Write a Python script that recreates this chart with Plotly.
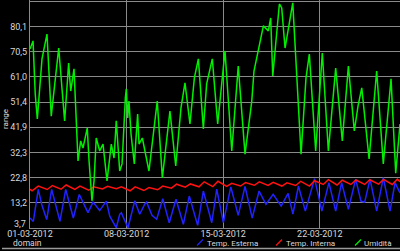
import pandas as pd
import plotly.graph_objects as go

BASE = pd.Timestamp("2012-03-01 00:00")

# Temp. Esterna (blue): day offset from 01-03-2012 00:00, value
est_days = [0.00, 0.24, 0.60, 0.85, 1.21, 1.57, 2.17, 2.59, 3.14, 3.57, 4.20, 4.57,
            5.05, 5.53, 5.78, 6.25, 6.50, 6.62, 6.74, 7.10, 7.59, 7.95, 8.31, 8.45,
            8.84, 9.18, 9.62, 10.09, 10.58, 11.11, 11.54, 12.15, 12.56, 13.17, 13.53,
            14.01, 14.55, 15.09, 15.58, 16.10, 16.60, 17.10, 17.62, 18.20, 18.70,
            19.05, 19.45, 19.95, 20.62, 21.15, 21.66, 22.15, 22.58, 23.07, 23.60,
            23.98, 24.25, 24.64, 25.12, 25.60, 26.09, 26.45, 26.81]
est_vals = [7.5, 6.2, 18.3, 12.6, 6.9, 18.3, 6.2, 18.3, 7.5, 16.4, 9.5, 13.5,
            10.3, 13.9, 8.2, 3.8, 8.9, 9.5, 8.0, 3.8, 14.0, 8.9, 12.7, 13.5,
            8.5, 7.0, 14.8, 5.7, 14.6, 5.1, 15.8, 4.7, 17.7, 5.7, 18.4,
            5.7, 19.3, 8.5, 19.5, 7.5, 17.7, 12.7, 16.5, 12.0, 16.8,
            9.0, 19.6, 10.1, 22.4, 10.1, 20.9, 10.1, 20.9, 10.8, 22.2,
            13.9, 13.5, 22.2, 10.1, 22.8, 10.1, 20.9, 17.0]

# Temp. Interna (red)
int_days = [0.00, 0.15, 0.60, 1.25, 1.62, 2.25, 2.62, 3.25, 3.62, 4.25, 4.62,
            5.25, 5.62, 6.25, 6.62, 7.25, 7.62, 8.25, 8.62, 9.25, 9.62, 10.25,
            10.62, 11.25, 11.62, 12.25, 12.62, 13.25, 13.62, 14.25, 14.62, 15.25,
            15.62, 16.25, 16.62, 17.25, 17.62, 18.25, 18.62, 19.25, 19.62, 20.25,
            20.62, 21.25, 21.62, 22.25, 22.62, 23.25, 23.62, 24.25, 24.62, 25.25,
            25.62, 26.25, 26.62, 26.81]
int_vals = [18.4, 17.8, 19.6, 18.3, 19.8, 18.4, 20.0, 18.3, 19.6, 18.0, 19.3,
            18.5, 19.5, 18.6, 19.3, 17.8, 19.3, 17.9, 19.0, 18.2, 19.6, 18.8,
            20.3, 19.2, 20.4, 19.3, 21.2, 19.4, 21.4, 19.5, 20.6, 19.6, 20.9,
            19.9, 21.2, 19.8, 21.0, 19.6, 20.8, 19.8, 21.4, 19.6, 21.6,
            20.2, 22.0, 20.0, 21.8, 20.2, 21.9, 20.2, 22.0, 20.3, 22.1,
            20.2, 22.2, 21.2]

# Umidità (green)
umi_days = [0.00, 0.22, 0.38, 0.53, 0.87, 1.23, 1.54, 2.08, 2.51, 2.80, 2.95, 3.19,
            3.48, 3.67, 3.84, 4.15, 4.28, 4.49, 4.64, 4.80, 5.05, 5.29, 5.58, 5.89,
            6.09, 6.25, 6.50, 6.67, 6.91, 6.98, 7.08, 7.17, 7.32, 7.56, 7.80, 7.90,
            8.14, 8.62, 9.22, 9.59, 10.14, 10.56, 10.94, 11.23, 11.59, 11.91, 12.20,
            12.56, 12.80, 13.21, 13.60, 14.08, 14.13, 14.62, 15.09, 15.58, 16.07,
            16.23, 16.91, 17.27, 17.44, 17.59, 18.07, 18.24, 18.48, 19.04, 19.64,
            20.00, 20.24, 20.70, 21.18, 21.62, 22.15, 22.63, 23.07, 23.50, 23.77,
            24.04, 24.57, 25.12, 25.60, 26.16, 26.50, 26.81]
umi_vals = [71.5, 74.6, 54.5, 45.0, 67.8, 77.2, 46.1, 71.9, 44.3, 66.2, 55.6, 64.0,
            29.1, 36.7, 34.0, 41.6, 29.0, 14.0, 21.5, 37.8, 32.9, 35.5, 21.5, 35.5,
            30.2, 44.3, 25.3, 28.0, 53.0, 56.4, 45.4, 51.8, 39.3, 28.0, 46.9, 35.5,
            37.8, 25.3, 51.8, 22.7, 48.0, 27.2, 49.2, 58.7, 43.1, 60.6, 67.8,
            41.2, 58.3, 67.8, 43.1, 68.1, 70.8, 32.9, 65.1, 31.7, 51.8,
            63.2, 80.3, 78.4, 83.3, 61.3, 88.6, 87.1, 71.9, 89.0, 31.7,
            60.6, 69.6, 32.9, 70.0, 32.9, 64.3, 36.7, 65.1, 40.5, 50.0,
            56.8, 29.9, 63.2, 28.0, 60.2, 24.5, 43.1]

y_tick_vals = [3.7, 13.24, 22.79, 32.33, 41.88, 51.42, 60.97, 70.51, 80.06, 89.6]
y_tick_text = ["3,7", "13,2", "22,8", "32,3", "41,9", "51,4", "61,0", "70,5", "80,1", "89,6"]
x_tick_dates = ["2012-03-01", "2012-03-08", "2012-03-15", "2012-03-22", "2012-03-29"]
x_tick_text = ["01-03-2012", "08-03-2012", "15-03-2012", "22-03-2012", "29-03-2012"]

series_names = ["Temp. Esterna", "Temp. Interna", "Umidità"]
series_colors = ["#2222ff", "#ff1111", "#00f000"]


def to_time(days):
    return [BASE + pd.Timedelta(days=d) for d in days]


W, H = 400, 251
ML, MB = 30, 23
PW, PH = W - ML, H - MB

fig = go.Figure()
for days, vals, name, col in [(est_days, est_vals, series_names[0], series_colors[0]),
                              (int_days, int_vals, series_names[1], series_colors[1]),
                              (umi_days, umi_vals, series_names[2], series_colors[2])]:
    fig.add_trace(go.Scatter(x=to_time(days), y=vals, mode="lines", name=name,
                             line=dict(color=col, width=1.5), showlegend=False))

# the lowest y label sits a little above its gridline (kept inside the plot), as in the reference
y_text_shown = [""] + y_tick_text[1:]

fig.update_layout(
    width=W, height=H,
    margin=dict(l=ML, r=0, t=0, b=MB, pad=0),
    paper_bgcolor="black", plot_bgcolor="black",
    font=dict(family="Roboto", size=9, color="#d8d8d8"),
    xaxis=dict(range=[BASE, BASE + pd.Timedelta(days=26.81)],
               tickvals=[pd.Timestamp(d) for d in x_tick_dates], ticktext=x_tick_text,
               showgrid=True, gridcolor="#8a8a8a", gridwidth=1,
               showline=True, linecolor="#8a8a8a", linewidth=1,
               ticks="", zeroline=False, ticklabelstandoff=-3,
               tickfont=dict(size=9, color="#d8d8d8")),
    yaxis=dict(range=[3.7, 90.1], tickvals=y_tick_vals, ticktext=y_text_shown,
               showgrid=True, gridcolor="#8a8a8a", gridwidth=1,
               showline=True, linecolor="#8a8a8a", linewidth=1,
               ticks="", zeroline=False, tickfont=dict(size=9, color="#d8d8d8")),
)


def px(x):
    return (x - ML) / PW


def py(y):
    return (PH - y) / PH


annots = [
    dict(text=y_tick_text[0], x=px(27.5), y=py(223.5), xanchor="right",
         font=dict(size=9, color="#d8d8d8")),
    dict(text="range", x=px(6), y=py(119), textangle=-90, font=dict(size=8, color="#d8d8d8")),
    dict(text="domain", x=px(27), y=py(242.5), font=dict(size=8.5, color="#d8d8d8")),
]
legend_items = [(205, 197, series_names[0], series_colors[0]),
                (284, 276, series_names[1], series_colors[1]),
                (362, 355, series_names[2], series_colors[2])]
shapes = []
for tx, sx, name, col in legend_items:
    annots.append(dict(text=name, x=px(tx), y=py(243), xanchor="left",
                       font=dict(size=8, color="#d8d8d8")))
    shapes.append(dict(type="line", xref="paper", yref="paper",
                       x0=px(sx), y0=py(245.5), x1=px(sx + 6), y1=py(239.5),
                       line=dict(color=col, width=1.3)))
for a in annots:
    a.update(xref="paper", yref="paper", showarrow=False)
    a.setdefault("xanchor", "center")
    a["yanchor"] = "middle"
shapes.append(dict(type="line", xref="paper", yref="paper",
                   x0=px(2), y0=py(248.5), x1=px(400), y1=py(248.5),
                   line=dict(color="#9a9a9a", width=1.5)))
fig.update_layout(annotations=annots, shapes=shapes)

fig.write_html("out.html")
